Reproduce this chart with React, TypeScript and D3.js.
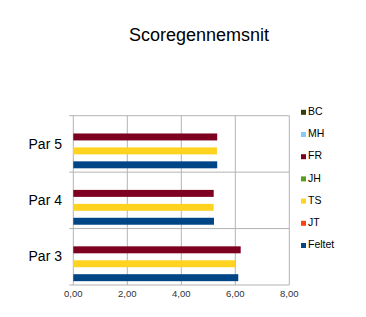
import React from "react";
import * as d3 from "d3";

const categories = ["Par 5", "Par 4", "Par 3"];
const seriesNames = ["Feltet", "JT", "TS", "JH", "FR", "MH", "BC"];
const seriesColors = ["#004586", "#ff420e", "#ffd320", "#579d1c", "#7e0021", "#83caff", "#314004"];
const feltet = [5.33, 5.21, 6.11];
const jt: (number | null)[] = [null, null, null];
const ts = [5.32, 5.2, 6.0];
const jh: (number | null)[] = [null, null, null];
const fr = [5.33, 5.2, 6.2];
const mh: (number | null)[] = [null, null, null];
const bc: (number | null)[] = [null, null, null];
const xTicks = [0, 2, 4, 6, 8];
const legendOrder = ["BC", "MH", "FR", "JH", "TS", "JT", "Feltet"];

const seriesValues = [feltet, jt, ts, jh, fr, mh, bc];

export default function App() {
  const W = 366, H = 317;
  const left = 73.3, right = 289.3, top = 115.7, bottom = 285;
  const x = d3.scaleLinear().domain([0, 8]).range([left, right]);
  const y = d3.scaleBand<string>().domain(categories).range([top, bottom]).paddingInner(0).paddingOuter(0);
  // series slots within a band: index 0 (Feltet) at bottom
  const inner = d3
    .scaleBand<string>()
    .domain([...seriesNames].reverse())
    .range([0, y.bandwidth()])
    .paddingInner(0)
    .paddingOuter(0.55);
  const font = "'Liberation Sans', Arial, sans-serif";
  const boundaries = [top, ...categories.map((c) => (y(c) as number) + y.bandwidth())];
  return (
    <svg width={W} height={H} style={{ position: "absolute", left: 0, top: 0 }} fontFamily={font}>
      <rect width={W} height={H} fill="#fff" />
      <text x={199} y={41} textAnchor="middle" fontSize={18} fill="#000">
        Scoregennemsnit
      </text>
      {xTicks.map((t) => (
        <line key={t} x1={x(t)} x2={x(t)} y1={top} y2={bottom} stroke="#b3b3b3" strokeWidth={1} />
      ))}
      {boundaries.map((b, i) => (
        <line key={i} x1={left - 4} x2={right} y1={b} y2={b} stroke="#b3b3b3" strokeWidth={1} />
      ))}
      {categories.map((c, ci) => (
        <g key={c}>
          <text x={62} y={(y(c) as number) + y.bandwidth() / 2 + 1} textAnchor="end" dominantBaseline="middle" fontSize={14} fill="#000">
            {c}
          </text>
          {seriesNames.map((s, si) => {
            const v = seriesValues[si][ci];
            if (v == null) return null;
            const yy = (y(c) as number) + (inner(s) as number);
            return (
              <rect key={s} x={x(0)} y={yy} width={x(v) - x(0)} height={inner.bandwidth()} fill={seriesColors[si]} />
            );
          })}
        </g>
      ))}
      {xTicks.map((t) => (
        <text key={t} x={x(t)} y={297} textAnchor="middle" fontSize={9.5} fill="#333">
          {t.toFixed(2).replace(".", ",")}
        </text>
      ))}
      {legendOrder.map((name, i) => {
        const si = seriesNames.indexOf(name);
        const cy = 112.3 + i * 22.2;
        return (
          <g key={name}>
            <rect x={301} y={cy - 2.5} width={5} height={5} fill={seriesColors[si]} />
            <text x={308} y={cy} dominantBaseline="middle" fontSize={10.5} fill="#000">
              {name}
            </text>
          </g>
        );
      })}
    </svg>
  );
}
